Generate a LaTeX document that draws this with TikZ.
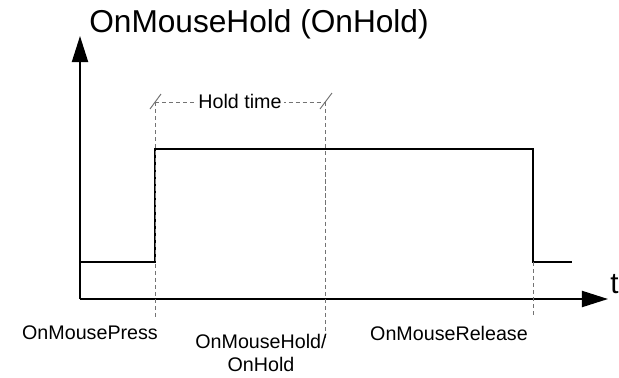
\documentclass[tikz,border=0pt]{standalone}
\usepackage{fontspec}
\setmainfont{Liberation Sans}
\usepackage{tikz}
\usetikzlibrary{arrows.meta}
\usetikzlibrary{calc}

\begin{document}
\begin{tikzpicture}[x=0.025cm, y=-0.025cm, every node/.style={inner sep=0}]
            \useasboundingbox (0,0) rectangle (619,377);
            \tikzset{axis/.style={line width=1.4pt, -{Triangle[length=6.5mm, width=4mm]}},
                wave/.style={line width=1.4pt, line join=miter},
                guide/.style={black!55, line width=0.7pt, dash pattern=on 3pt off 2pt},
                tick/.style={black!55, line width=0.7pt},
                lbl/.style={font=\fontsize{14}{16.3}\selectfont}}
            \coordinate (o) at (80,299);
            \coordinate (ytop) at (80,36);
            \coordinate (xend) at (608,299);
            \draw[axis] (o) -- (ytop);
            \draw[axis] (o) -- (xend);
            \node[anchor=base, font=\fontsize{22.5}{26}\selectfont] (title) at (259,32) {OnMouseHold (OnHold)};
            \node[anchor=base west, font=\fontsize{21}{24}\selectfont] (t) at (610,293) {t};
            \coordinate (w1) at (80,262);
            \coordinate (w2) at (155,262);
            \coordinate (w3) at (155,149);
            \coordinate (w4) at (533,149);
            \coordinate (w5) at (533,262);
            \coordinate (w6) at (572,262);
            \draw[wave] (w1) -- (w2) -- (w3) -- (w4) -- (w5) -- (w6);
            \coordinate (h1) at (155,102);
            \coordinate (h2) at (325,102);
            \coordinate (p1) at (155,318);
            \coordinate (p2) at (325,340);
            \coordinate (p3) at (533,318);
            \draw[guide] (h1) -- (p1);
            \draw[guide] (h2) -- (p2);
            \draw[guide] (w5) -- (p3);
            \draw[guide] (h1) -- (h2);
            \draw[tick] ($(h1)+(-5,7)$) -- ($(h1)+(6,-8)$);
            \draw[tick] ($(h2)+(-5,7)$) -- ($(h2)+(7,-9)$);
            \node[lbl, fill=white, inner xsep=2pt, anchor=base] (hold) at (240,108) {Hold time};
            \node[lbl, anchor=base] (press) at (90,339) {OnMousePress};
            \node[lbl, anchor=north, align=center] (onhold) at (261,334) {OnMouseHold/\\OnHold};
            \node[lbl, anchor=base] (release) at (449,340) {OnMouseRelease};
        \end{tikzpicture}
\end{document}
